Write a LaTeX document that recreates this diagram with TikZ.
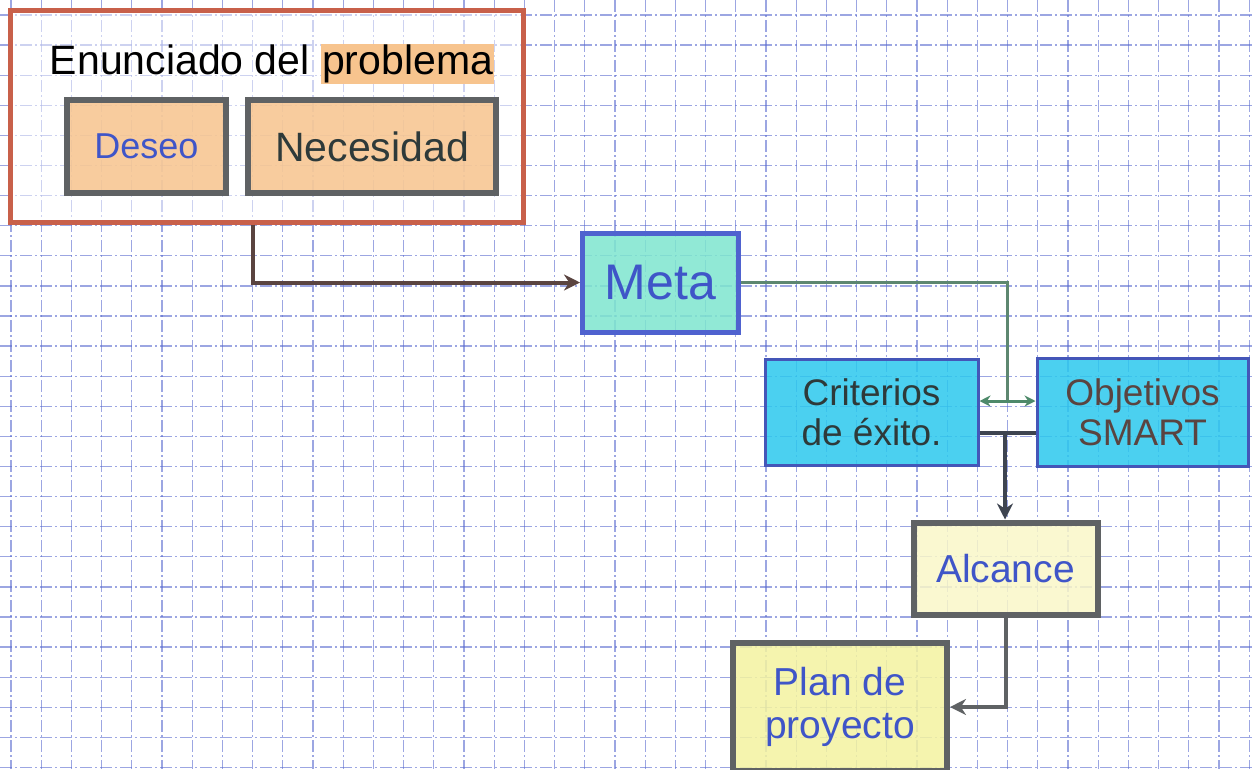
\documentclass[tikz,border=0pt]{standalone}
\usepackage{fontspec}
\setmainfont{Liberation Sans}
\usetikzlibrary{arrows.meta}
\definecolor{gridc}{HTML}{5A6BD0}
\definecolor{redbox}{HTML}{C8604A}
\definecolor{grayb}{HTML}{5F6264}
\definecolor{orangef}{HTML}{F7C48E}
\definecolor{metab}{HTML}{4F62CF}
\definecolor{metaf}{HTML}{7EE6CF}
\definecolor{cyanf}{HTML}{2CC8EE}
\definecolor{cyanb}{HTML}{4456B8}
\definecolor{yellowl}{HTML}{FAF7C8}
\definecolor{yelloww}{HTML}{F4F3A0}
\definecolor{txtblue}{HTML}{3F55C8}
\definecolor{txtdark}{HTML}{2E3A3A}
\definecolor{greenl}{HTML}{4E8A6A}
\definecolor{darkl}{HTML}{3E4450}
\definecolor{brownl}{HTML}{5A4440}
\tikzset{
  box/.style={draw, rectangle, inner sep=0pt, align=center, fill opacity=0.85, text opacity=1},
  graybox/.style={box, draw=grayb, line width=6pt},
  cyanbox/.style={box, draw=cyanb, line width=3pt, fill=cyanf},
  conn/.style={line width=4pt, draw=darkl},
  tip/.style={-{Stealth[length=16pt,width=16pt]}},
}
\begin{document}
\begin{tikzpicture}[x=1pt,y=-1pt]
\clip (0,0) rectangle (1255,769);
\fill[white] (0,0) rectangle (1255,769);
% grid
\foreach \k in {0,...,41}{
  \draw[gridc, opacity=0.6, line width=1.3pt, dash pattern=on 12pt off 3pt on 2pt off 3pt] ({11+30.2*\k},0) -- ({11+30.2*\k},769);
}
\foreach \k in {0,...,25}{
  \draw[gridc, opacity=0.6, line width=1.3pt, dash pattern=on 12pt off 3pt on 2pt off 3pt] (0,{15+30.1*\k}) -- (1255,{15+30.1*\k});
}
% outer box
\node[box, draw=redbox, line width=5pt, fill=white, fill opacity=0.5, minimum width=513pt, minimum height=212pt] (enun) at (266.5,116) {};
\node[font=\fontsize{41}{45}\selectfont, text=black] (title) at (272,64)
  {Enunciado del {\setlength\fboxsep{1pt}\colorbox{orangef}{problema}}};
\node[graybox, fill=orangef, minimum width=159pt, minimum height=93pt, font=\fontsize{36}{40}\selectfont, text=txtblue] (deseo) at (146.5,146.5) {Deseo};
\node[graybox, fill=orangef, minimum width=248pt, minimum height=93pt, font=\fontsize{41}{45}\selectfont, text=txtdark] (nec) at (372,146.5) {Necesidad};
% meta
\node[box, draw=metab, line width=5pt, fill=metaf, minimum width=156pt, minimum height=99pt, font=\fontsize{50}{54}\selectfont, text=txtblue] (meta) at (660.5,282.5) {Meta};
% criterios / objetivos
\node[cyanbox, minimum width=213pt, minimum height=106pt, font=\fontsize{37}{40}\selectfont, text=txtdark] (crit) at (871.5,412.5) {Criterios\\de éxito.};
\node[cyanbox, minimum width=211pt, minimum height=108pt, font=\fontsize{37}{40}\selectfont, text=brownl] (obj) at (1142.5,412.5) {Objetivos\\SMART};
% alcance / plan
\node[graybox, fill=yellowl, minimum width=184pt, minimum height=92pt, font=\fontsize{39}{43}\selectfont, text=txtblue] (alc) at (1005.5,568.5) {Alcance};
\node[graybox, fill=yelloww, minimum width=214pt, minimum height=128pt, font=\fontsize{39}{43}\selectfont, text=txtblue] (plan) at (840,707) {Plan de\\proyecto};
% connectors
\coordinate (c1) at (253,280);
\coordinate (j1) at (1007,401);
\coordinate (j2) at (1005,433);
\draw[conn, draw=brownl, tip] (enun.south -| c1) |- (meta.west);
\draw[line width=3pt, draw=greenl!70!gray] (meta.east) -| (j1);
\draw[line width=3pt, draw=greenl, {Stealth[length=11pt,width=11pt]}-{Stealth[length=11pt,width=11pt]}] (crit.east |- j1) -- (obj.west |- j1);
\draw[conn] (crit.east |- j2) -- (obj.west |- j2);
\draw[conn, tip] (j2) -- (alc.north -| j2);
\draw[conn, draw=grayb, tip] (alc.south) |- (plan.east);
\end{tikzpicture}
\end{document}
